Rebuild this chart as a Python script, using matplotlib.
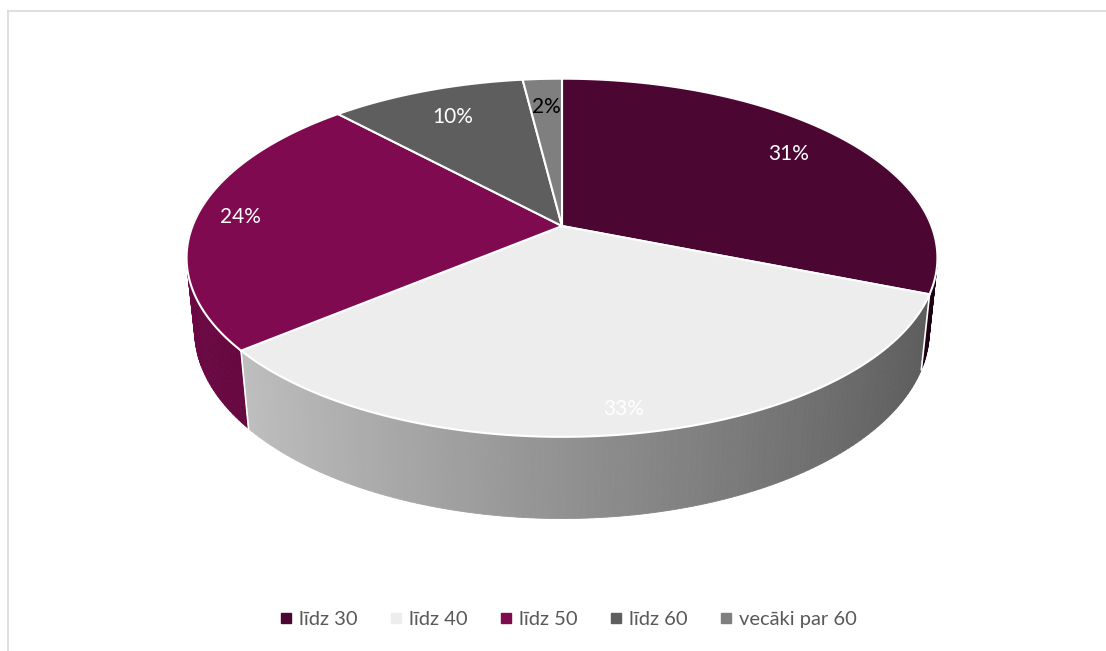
import numpy as np
import matplotlib
matplotlib.use("Agg")
import matplotlib.pyplot as plt
from matplotlib.patches import Polygon
from matplotlib.lines import Line2D
from matplotlib.colors import to_rgb

# ================= DATA =================
labels = ["līdz 30", "līdz 40", "līdz 50", "līdz 60", "vecāki par 60"]
values = [31, 33, 24, 10, 2]
colors = ["#4B0632", "#EDEDED", "#7F0A50", "#5E5E5E", "#7F7F7F"]
label_colors = ["white", "white", "white", "white", "black"]

# ================= 3D PIE GEOMETRY =================
W, H = 1106, 651
CX, CY = 562, 226        # apex of the pie on screen (px)
TILT = np.radians(28)
DIST = 4.98
FOC = 1840
THICK = 0.225
label_r = [0.80, 0.90, 0.88, 0.78, 0.78]   # label distance from apex, per slice


def project(theta, r=1.0, h=0.0):
    # disc in horizontal plane, theta clockwise from the back
    x = r * np.sin(theta)
    z = r * np.cos(theta)
    Y = h * np.cos(TILT) + z * np.sin(TILT)
    Z = DIST - h * np.sin(TILT) + z * np.cos(TILT)
    return CX + FOC * x / Z, CY - FOC * Y / Z


fig = plt.figure(figsize=(W / 100, H / 100), dpi=100)
ax = fig.add_axes([0, 0, 1, 1])
ax.set_xlim(0, W)
ax.set_ylim(H, 0)
ax.axis("off")

# chart border (only left/top visible in the crop)
ax.plot([8, 8], [651, 11], color="#D9D9D9", lw=1.2)
ax.plot([8, 1106], [11, 11], color="#D9D9D9", lw=1.2)

fracs = np.array(values) / sum(values)
starts = np.concatenate([[0], np.cumsum(fracs)[:-1]]) * 2 * np.pi
ends = np.cumsum(fracs) * 2 * np.pi

# ---- side walls, drawn in small strips with shading ----
strips = []
for i in range(len(values)):
    th = np.linspace(starts[i], ends[i], max(int(fracs[i] * 400), 4))
    base = np.array(to_rgb(colors[i]))
    for a, b in zip(th[:-1], th[1:]):
        m = (a + b) / 2
        if np.cos(m) > 0.35:
            continue
        shade = 0.615 - 0.245 * np.sin(m)
        xa, ya = project(a)
        xb, yb = project(b)
        xc, yc = project(b, h=-THICK)
        xd, yd = project(a, h=-THICK)
        depth = -np.cos(m)
        strips.append((depth, [(xa, ya), (xb, yb), (xc, yc), (xd, yd)],
                       np.clip(base * shade, 0, 1)))
strips.sort(key=lambda s: s[0])
for _, pts, col in strips:
    ax.add_patch(Polygon(pts, closed=True, facecolor=col, edgecolor=col,
                         lw=0.6, zorder=1))

# white edges between wall segments at slice boundaries (front only)
for b in ends:
    if np.cos(b) < 0.2:
        x1, y1 = project(b)
        x2, y2 = project(b, h=-THICK)
        ax.plot([x1, x2], [y1, y2], color="white", lw=1.2, zorder=2)

# ---- top faces ----
for i in range(len(values)):
    th = np.linspace(starts[i], ends[i], 200)
    xs, ys = project(th)
    pts = [(CX, CY)] + list(zip(xs, ys))
    ax.add_patch(Polygon(pts, closed=True, facecolor=colors[i],
                         edgecolor="white", lw=1.5, zorder=3))

# ---- data labels ----
for i in range(len(values)):
    m = (starts[i] + ends[i]) / 2
    lx, ly = project(m, r=label_r[i])
    ax.text(lx, ly, f"{values[i]}%", color=label_colors[i], fontsize=15,
            family="Lato", ha="center", va="center", zorder=5)

# ---- legend ----
handles = [Line2D([], [], marker="s", linestyle="none", markersize=6.5,
                  markerfacecolor=c, markeredgecolor=c) for c in colors]
leg = ax.legend(handles, labels, ncol=5, loc="center",
                bbox_to_anchor=(568 / W, 1 - 619 / H), frameon=False,
                handletextpad=0.3, columnspacing=1.55, handlelength=0.7,
                prop={"family": "Lato", "size": 14.5})
for t in leg.get_texts():
    t.set_color("#595959")

fig.savefig("out.png", dpi=100)
